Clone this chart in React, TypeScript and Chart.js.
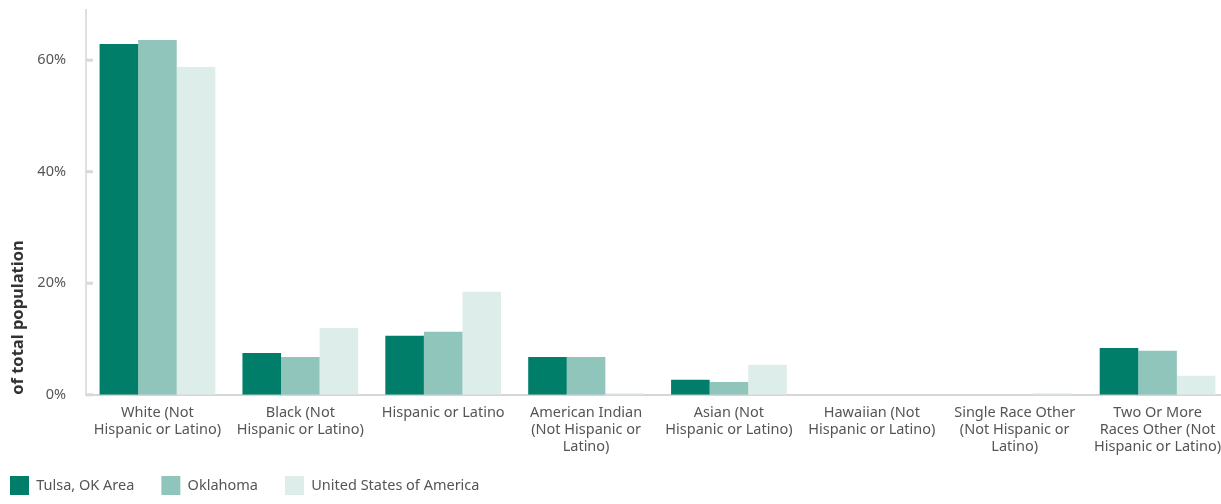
import React, { useEffect, useRef } from "react";
import { Chart, registerables } from "chart.js";

Chart.register(...registerables);

const categories: string[][] = [
  ["White (Not", "Hispanic or Latino)"],
  ["Black (Not", "Hispanic or Latino)"],
  ["Hispanic or Latino"],
  ["American Indian", "(Not Hispanic or", "Latino)"],
  ["Asian (Not", "Hispanic or Latino)"],
  ["Hawaiian (Not", "Hispanic or Latino)"],
  ["Single Race Other", "(Not Hispanic or", "Latino)"],
  ["Two Or More", "Races Other (Not", "Hispanic or Latino)"],
];

const seriesNames = ["Tulsa, OK Area", "Oklahoma", "United States of America"];
const tulsa = [62.9, 7.5, 10.6, 6.8, 2.7, 0, 0, 8.4];
const oklahoma = [63.6, 6.8, 11.3, 6.8, 2.3, 0, 0, 7.9];
const usa = [58.8, 12.0, 18.5, 0.3, 5.4, 0, 0.3, 3.4];
const yTicks = [0, 20, 40, 60];

const colors = ["#007e69", "#8fc5bb", "#ddeeea"];
const FONT = "'Noto Sans', sans-serif";

const innerTicks = {
  id: "innerTicks",
  afterLayout(chart: any) {
    if (chart.legend) {
      chart.legend.left -= 25;
      chart.legend.top -= 16;
    }
  },
  afterDatasetsDraw(chart: any) {
    const y = chart.scales.y;
    const ctx = chart.ctx;
    ctx.save();
    ctx.strokeStyle = "#d9d9d9";
    ctx.lineWidth = 3;
    for (const v of yTicks) {
      const py = y.getPixelForValue(v);
      ctx.beginPath();
      ctx.moveTo(y.right, py);
      ctx.lineTo(y.right + 7, py);
      ctx.stroke();
    }
    ctx.restore();
  },
};

export default function App() {
  const ref = useRef<HTMLCanvasElement | null>(null);
  useEffect(() => {
    if (!ref.current) return;
    const chart = new Chart(ref.current, {
      type: "bar",
      data: {
        labels: categories,
        datasets: [tulsa, oklahoma, usa].map((d, i) => ({
          label: seriesNames[i],
          data: d,
          backgroundColor: colors[i],
          borderWidth: 0,
          barPercentage: 1,
          categoryPercentage: 0.81,
        })),
      },
      options: {
        animation: false,
        responsive: false,
        maintainAspectRatio: false,
        layout: { padding: { left: 8, right: 0, top: 10, bottom: -17 } },
        plugins: {
          tooltip: { enabled: false },
          legend: {
            position: "bottom",
            align: "start",
            labels: {
              boxWidth: 19,
              boxHeight: 19,
              padding: 27,
              color: "#555",
              font: { family: FONT, size: 14.5 },
            },
          },
        },
        scales: {
          x: {
            afterFit: (scale: any) => {
              scale.paddingLeft = 0;
              scale.paddingRight = 0;
            },
            grid: { display: false, drawTicks: false },
            border: { display: true, color: "#d6d6d6", width: 2 },
            ticks: {
              color: "#555",
              font: { family: FONT, size: 14.5 },
              maxRotation: 0,
              autoSkip: false,
              padding: 9,
            },
          },
          y: {
            min: 0,
            max: 69,
            afterBuildTicks: (scale: any) => {
              scale.ticks = yTicks.map((v) => ({ value: v }));
            },
            afterFit: (scale: any) => {
              scale.width = 78;
              scale.paddingTop = 0;
              scale.paddingBottom = 0;
            },
            grid: { display: false, drawTicks: false },
            border: { display: true, color: "#e0e0e0", width: 2 },
            ticks: {
              color: "#555",
              font: { family: FONT, size: 14.5 },
              padding: 20,
              callback: (v: any) => v + "%",
            },
            title: {
              display: true,
              text: "of total population",
              align: "start",
              color: "#333",
              font: { family: FONT, size: 16.5, weight: "bold" },
              padding: { top: 0, bottom: 15 },
            },
          },
        },
      },
      plugins: [innerTicks],
    });
    return () => chart.destroy();
  }, []);
  return (
    <div style={{ position: "fixed", left: 0, top: 0, width: 1221, height: 504, overflow: "hidden" }}>
      <canvas ref={ref} width={1229} height={504} style={{ width: 1229, height: 504 }} />
    </div>
  );
}
